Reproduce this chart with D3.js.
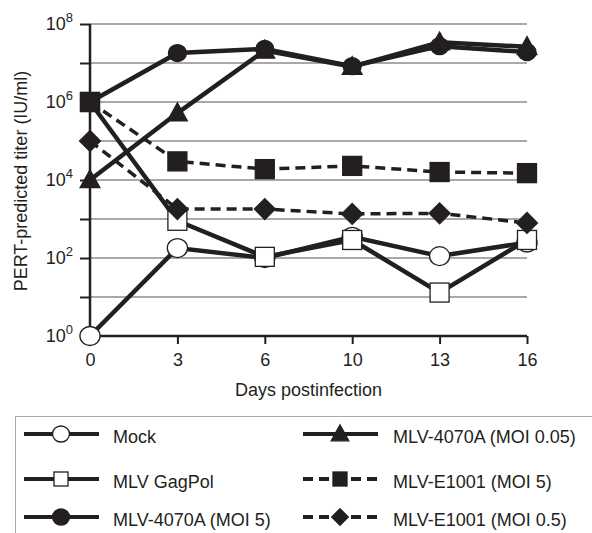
<!DOCTYPE html>
<html>
<head>
<meta charset="utf-8">
<script src="https://cdn.jsdelivr.net/npm/d3@7"></script>
<style>
  body { margin: 0; background: #fff; }
  text { font-family: "Liberation Sans", Arial, Helvetica, sans-serif; fill: #231f20; }
</style>
</head>
<body>
<div id="chart"></div>
<script>
var width = 592;
var height = 533;

// days postinfection (categorical, evenly spaced)
var days = ["0", "3", "6", "10", "13", "16"];
var seriesNames = ["Mock", "MLV GagPol", "MLV-4070A (MOI 5)", "MLV-4070A (MOI 0.05)", "MLV-E1001 (MOI 5)", "MLV-E1001 (MOI 0.5)"];
var mock = [1, 180, 100, 350, 112, 250];
var gagPol = [1e6, 900, 107, 290, 13, 290];
var moi5 = [1e6, 1.8e7, 2.3e7, 8.3e6, 2.7e7, 1.9e7];
var moi005 = [1e4, 5.2e5, 2.1e7, 8e6, 3.4e7, 2.6e7];
var e1001Moi5 = [1e6, 3e4, 1.9e4, 2.3e4, 1.6e4, 1.5e4];
var e1001Moi05 = [1e5, 1.8e3, 1.8e3, 1.35e3, 1.4e3, 790];
var yTickExps = [0, 2, 4, 6, 8];

var series = [
    { name: seriesNames[0], values: mock, shape: "circle", fill: "#fff", dash: null },
    { name: seriesNames[1], values: gagPol, shape: "square", fill: "#fff", dash: null },
    { name: seriesNames[2], values: moi5, shape: "circle", fill: "#231f20", dash: null },
    { name: seriesNames[3], values: moi005, shape: "triangle", fill: "#231f20", dash: null },
    { name: seriesNames[4], values: e1001Moi5, shape: "square", fill: "#231f20", dash: "10,6" },
    { name: seriesNames[5], values: e1001Moi05, shape: "diamond", fill: "#231f20", dash: "10,6" }
];

var ink = "#231f20";
var svg = d3.select("#chart").append("svg")
    .attr("width", width)
    .attr("height", height);

var xScale = d3.scalePoint().domain(days).range([90, 527]);
var yScale = d3.scaleLog().domain([1, 1e8]).range([336, 24]);

// gridlines every decade
var decades = d3.range(0, 9).map(e => Math.pow(10, e));
svg.selectAll(".grid")
    .data(decades.slice(1))
    .enter().append("line")
    .attr("class", "grid")
    .attr("x1", 90).attr("x2", 527)
    .attr("y1", d => yScale(d)).attr("y2", d => yScale(d))
    .attr("stroke", "#a7a9ac")
    .attr("stroke-width", 2);

// y axis
var yAxis = d3.axisLeft(yScale).tickValues(decades).tickSize(10).tickFormat("");
var yG = svg.append("g").attr("transform", "translate(90,0)").call(yAxis);
yG.select(".domain").remove();
yG.selectAll(".tick line").attr("stroke", ink).attr("stroke-width", 2);
svg.append("line")
    .attr("x1", 90).attr("x2", 90)
    .attr("y1", yScale(1e8)).attr("y2", yScale(1))
    .attr("stroke", ink).attr("stroke-width", 2.5);

var yLab = svg.selectAll(".ylab")
    .data(yTickExps)
    .enter().append("text")
    .attr("class", "ylab")
    .attr("x", 73)
    .attr("y", d => yScale(Math.pow(10, d)) + 6)
    .attr("text-anchor", "end")
    .style("font-size", "18px");
yLab.append("tspan").text("10");
yLab.append("tspan").attr("dy", -8).style("font-size", "13px").text(d => d);

// x axis
var xAxis = d3.axisBottom(xScale).tickSize(8).tickSizeOuter(0).tickPadding(9);
var xG = svg.append("g").attr("transform", "translate(0,336)").call(xAxis);
xG.select(".domain").attr("stroke", ink).attr("stroke-width", 2.5).attr("d", "M90,0H527");
xG.selectAll(".tick line").attr("stroke", ink).attr("stroke-width", 2);
xG.selectAll(".tick text")
    .attr("fill", ink)
    .style("font-family", "'Liberation Sans', Arial, sans-serif")
    .style("font-size", "18px");

svg.append("text")
    .attr("x", 308.5).attr("y", 396)
    .attr("text-anchor", "middle")
    .style("font-size", "18px")
    .text("Days postinfection");

svg.append("text")
    .attr("transform", "translate(27,181) rotate(-90)")
    .attr("text-anchor", "middle")
    .style("font-size", "18px")
    .text("PERT-predicted titer (IU/ml)");

// marker drawing
function marker(sel, shape, fill, s) {
    if (shape === "circle") {
        sel.append("ellipse").attr("rx", s * 0.53).attr("ry", s * 0.5);
    } else if (shape === "square") {
        sel.append("rect").attr("x", -s / 2).attr("y", -s / 2).attr("width", s).attr("height", s);
    } else if (shape === "triangle") {
        var h = s * 0.95;
        sel.append("path").attr("d", `M0,${-h * 0.6}L${s * 0.55},${h * 0.45}L${-s * 0.55},${h * 0.45}Z`);
    } else if (shape === "diamond") {
        var r = s * 0.55;
        sel.append("path").attr("d", `M0,${-r}L${r},0L0,${r}L${-r},0Z`);
    }
    sel.selectAll("*")
        .attr("fill", fill)
        .attr("stroke", ink)
        .attr("stroke-width", 1.3);
}

var line = d3.line()
    .x((d, i) => xScale(days[i]))
    .y(d => yScale(d));

svg.selectAll(".series-line")
    .data(series)
    .enter().append("path")
    .attr("class", "series-line")
    .attr("d", d => line(d.values))
    .attr("fill", "none")
    .attr("stroke", ink)
    .attr("stroke-width", d => d.dash ? 3.5 : 4.5)
    .attr("stroke-dasharray", d => d.dash);

series.forEach(function(s) {
    s.values.forEach(function(v, i) {
        var g = svg.append("g")
            .attr("transform", `translate(${xScale(days[i])},${yScale(v)})`);
        var size = s.shape === "circle" ? (s.fill === "#fff" ? 19 : 17) : 19;
        if (s.shape === "triangle") size = 18;
        marker(g, s.shape, s.fill, size);
    });
});

// legend
svg.append("rect")
    .attr("x", 15.5).attr("y", 416.5)
    .attr("width", 600).attr("height", 140)
    .attr("fill", "none")
    .attr("stroke", "#a7a9ac")
    .attr("stroke-width", 1);

var legendRows = [434, 479, 517];
var legend = svg.selectAll(".legend")
    .data(series)
    .enter().append("g")
    .attr("class", "legend")
    .attr("transform", (d, i) => {
        var col = Math.floor(i / 3);
        var x = col === 0 ? 24 : 303;
        return `translate(${x},${legendRows[i % 3]})`;
    });

legend.append("line")
    .attr("x1", 0).attr("x2", 75)
    .attr("stroke", ink)
    .attr("stroke-width", 4)
    .attr("stroke-dasharray", d => d.dash ? "10,6" : null);

legend.each(function(d) {
    var g = d3.select(this).append("g").attr("transform", "translate(37,0)");
    var size = d.shape === "circle" ? 16 : 14;
    if (d.shape === "triangle") size = 16;
    if (d.shape === "diamond") size = 15;
    marker(g, d.shape, d.fill, size);
});

legend.append("text")
    .attr("x", (d, i) => i < 3 ? 89 : 90)
    .attr("y", 9)
    .style("font-size", "18px")
    .text(d => d.name);
</script>
</body>
</html>
